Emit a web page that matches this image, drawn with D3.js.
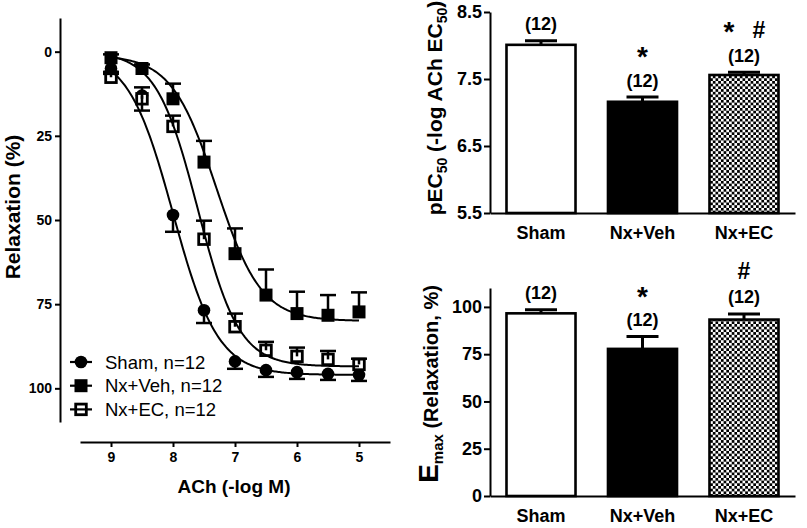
<!DOCTYPE html>
<html><head><meta charset="utf-8">
<script src="https://cdn.jsdelivr.net/npm/d3@7"></script>
<style>
body{margin:0;background:#fff}
text{font-family:"Liberation Sans",Arial,Helvetica,sans-serif}
</style>
</head><body>
<svg id="c" width="807" height="528" xmlns="http://www.w3.org/2000/svg"></svg>
<script>
// ---------- data: concentration-response ----------
const doses = [9, 8.5, 8, 7.5, 7, 6.5, 6, 5.5, 5];           // ACh (-log M)
const shamMean = [5, 13, 48.5, 76.8, 92, 94.6, 95.2, 95.7, 96];
const shamSem  = [1, 4.5, 5, 3.8, 2.2, 2, 2, 1.8, 1.8];
const vehMean  = [1.8, 5, 14, 32.8, 60, 72.3, 77.8, 78.3, 77.3];
const vehSem   = [1, 1.2, 4.5, 6.3, 7.5, 7.6, 6.5, 6, 5.8];
const ecMean   = [7.6, 14, 22.2, 55.7, 81.7, 88.7, 90.5, 91.4, 92.9];
const ecSem    = [1, 3.4, 3.2, 5.5, 3.9, 2.5, 2.6, 2.5, 1.7];
// fitted sigmoid parameters: [bottom, top, pEC50, hill]
const shamFit = [0, 96, 8.0, 1.2];
const vehFit  = [1, 80, 7.3, 1.2];
const ecFit   = [0, 93.5, 7.6, 1.3];
const legendLabels = ["Sham, n=12", "Nx+Veh, n=12", "Nx+EC, n=12"];
const relaxTicks = [0, 25, 50, 75, 100];
const doseTicks = [9, 8, 7, 6, 5];

// ---------- data: bar charts ----------
const groups = ["Sham", "Nx+Veh", "Nx+EC"];
const pec50 = [8.01, 7.16, 7.56];
const pec50Sem = [0.06, 0.07, 0.04];
const emax = [96.6, 77.8, 93.3];
const emaxSem = [1.9, 6.5, 3.0];
const nLabels = ["(12)", "(12)", "(12)"];
const pecSig = ["", "*", "* #"];
const emaxSig = ["", "*", "#"];
const pecTicks = [5.5, 6.5, 7.5, 8.5];
const emaxTicks = [0, 25, 50, 75, 100];

const svg = d3.select("#c");
const defs = svg.append("defs");
const pat = defs.append("pattern").attr("id","chk").attr("patternUnits","userSpaceOnUse")
  .attr("width",5.4).attr("height",5.4);
pat.append("rect").attr("width",5.4).attr("height",5.4).attr("fill","#fff");
pat.append("rect").attr("width",2.7).attr("height",2.7).attr("fill","#000");
pat.append("rect").attr("x",2.7).attr("y",2.7).attr("width",2.7).attr("height",2.7).attr("fill","#000");

function styleAxis(g, fs){
  g.selectAll("path.domain").attr("stroke","#000").attr("stroke-width",2);
  g.selectAll(".tick line").attr("stroke","#000").attr("stroke-width",2);
  g.selectAll(".tick text").attr("fill","#000").style("font-size",fs+"px").style("font-weight","bold")
   .style("font-family",'"Liberation Sans",Arial,sans-serif');
}

// ================= LEFT PANEL =================
const xL = d3.scaleLinear().domain([9.5, 4.5]).range([80, 390]);
const yL = d3.scaleLinear().domain([-10, 110]).range([18, 422]);

const gyL = svg.append("g").attr("transform","translate(60,0)")
  .call(d3.axisLeft(yL).tickValues(relaxTicks).tickSize(5).tickSizeOuter(0).tickPadding(3));
styleAxis(gyL, 14);
const gxL = svg.append("g").attr("transform","translate(0,442)")
  .call(d3.axisBottom(xL).tickValues(doseTicks).tickSize(5).tickSizeOuter(0).tickPadding(5)
    .tickFormat(d3.format("d")));
styleAxis(gxL, 14);

svg.append("text").attr("transform","translate(20,207) rotate(-90)").attr("text-anchor","middle")
  .style("font-size","21px").style("font-weight","bold").text("Relaxation (%)");
svg.append("text").attr("x",234).attr("y",493).attr("text-anchor","middle")
  .style("font-size","19px").style("font-weight","bold").text("ACh (-log M)");

const series = [
  {mean: shamMean, sem: shamSem, dir: 1, shape: "circle", fit: shamFit},
  {mean: vehMean, sem: vehSem, dir: -1, shape: "fsquare", fit: vehFit},
  {mean: ecMean, sem: ecSem, dir: -1, shape: "osquare", fit: ecFit}
];

function drawMarker(g, shape, cx, cy){
  if(shape==="circle"){
    g.append("circle").attr("cx",cx).attr("cy",cy).attr("r",6.3).attr("fill","#000");
  } else if(shape==="fsquare"){
    g.append("rect").attr("x",cx-6.5).attr("y",cy-6.5).attr("width",13).attr("height",13).attr("fill","#000");
  } else {
    g.append("rect").attr("x",cx-5.3).attr("y",cy-5.3).attr("width",10.6).attr("height",10.6)
      .attr("fill","#fff").attr("stroke","#000").attr("stroke-width",2.8);
  }
}

const markG = svg.append("g");
const lineG = svg.append("g");
const fitX = d3.range(9, 4.999, -0.02);
const line = d3.line().x(d=>xL(d[0])).y(d=>yL(d[1]));
series.forEach(s=>{
  doses.forEach((x,i)=>drawMarker(markG, s.shape, xL(x), yL(s.mean[i])));
  const [b,t,p,h] = s.fit;
  const pts = fitX.map(x=>[x, b + (t-b)/(1+Math.pow(10, h*(x-p)))]);
  lineG.append("path").attr("d",line(pts)).attr("fill","none").attr("stroke","#000").attr("stroke-width",2);
  doses.forEach((x,i)=>{
    const cx = xL(x), y0 = yL(s.mean[i]), y1 = yL(s.mean[i] + s.dir*s.sem[i]);
    lineG.append("line").attr("x1",cx).attr("x2",cx).attr("y1",y0).attr("y2",y1)
      .attr("stroke","#000").attr("stroke-width",2.5);
    lineG.append("line").attr("x1",cx-8).attr("x2",cx+8).attr("y1",y1).attr("y2",y1)
      .attr("stroke","#000").attr("stroke-width",2.5);
  });
});

// legend
const legG = svg.append("g");
series.forEach((s,i)=>{
  const cy = 362 + i*23.7;
  drawMarker(legG, s.shape, 81, cy);
  legG.append("line").attr("x1",70).attr("x2",92).attr("y1",cy).attr("y2",cy)
    .attr("stroke","#000").attr("stroke-width",2.2);
  legG.append("text").attr("x",105).attr("y",cy).attr("dy","0.36em")
    .style("font-size","18.5px").text(legendLabels[i]);
});

// ================= BAR PANELS =================
const xB = d3.scaleBand().domain(groups).range([490, 795]).paddingInner(0.32).paddingOuter(0.1625);
const fills = ["#fff", "#000", "url(#chk)"];

function barPanel(y, vals, sems, ticks, baseY, sig){
  const gy = svg.append("g").attr("transform","translate(490,0)")
    .call(d3.axisLeft(y).tickValues(ticks).tickSize(6).tickSizeOuter(0).tickPadding(2)
      .tickFormat(d=>String(d)));
  styleAxis(gy, 18);
  const gx = svg.append("g").attr("transform",`translate(0,${baseY})`)
    .call(d3.axisBottom(xB).tickSize(0).tickSizeOuter(0).tickPadding(13));
  styleAxis(gx, 18);
  groups.forEach((gname,i)=>{
    const x0 = xB(gname), w = xB.bandwidth(), cx = x0 + w/2;
    const yTop = y(vals[i]), yErr = y(vals[i]+sems[i]);
    svg.append("line").attr("x1",cx).attr("x2",cx).attr("y1",yTop).attr("y2",yErr)
      .attr("stroke","#000").attr("stroke-width",3);
    svg.append("line").attr("x1",cx-16).attr("x2",cx+16).attr("y1",yErr).attr("y2",yErr)
      .attr("stroke","#000").attr("stroke-width",3);
    svg.append("rect").attr("x",x0).attr("y",yTop).attr("width",w).attr("height",baseY-yTop)
      .attr("fill",fills[i]).attr("stroke","#000").attr("stroke-width",2.6);
    const nY = yErr - 17;
    svg.append("text").attr("x",cx).attr("y",nY).attr("dy","0.36em").attr("text-anchor","middle")
      .style("font-size","18px").style("font-weight","bold").text(nLabels[i]);
    if(sig[i]){
      const sy = nY - 26;
      const parts = sig[i].split(" ");
      const gap = 30;
      parts.forEach((ch,k)=>{
        const px = cx + (k - (parts.length-1)/2)*gap;
        if(ch==="*"){
          svg.append("text").attr("x",px).attr("y",sy+12).attr("text-anchor","middle")
            .style("font-size","28px").style("font-weight","bold").text("*");
        } else {
          svg.append("text").attr("x",px).attr("y",sy).attr("dy","0.36em").attr("text-anchor","middle")
            .style("font-size","23px").style("font-weight","bold").text(ch);
        }
      });
    }
  });
}

const yT = d3.scaleLinear().domain([5.5, 8.5]).range([213, 12]);
barPanel(yT, pec50, pec50Sem, pecTicks, 213, pecSig);
const yBt = d3.scaleLinear().domain([0, 110]).range([496, 288]);
barPanel(yBt, emax, emaxSem, emaxTicks, 496, emaxSig);

// y titles
const t1 = svg.append("text").attr("transform","translate(442,108) rotate(-90)").attr("text-anchor","middle")
  .style("font-size","21px").style("font-weight","bold");
t1.append("tspan").text("pEC");
t1.append("tspan").attr("dy","5").style("font-size","14px").text("50");
t1.append("tspan").attr("dy","-5").text(" (-log ACh EC");
t1.append("tspan").attr("dy","5").style("font-size","14px").text("50");
t1.append("tspan").attr("dy","-5").text(")");

const t2 = svg.append("text").attr("transform","translate(438,384) rotate(-90)").attr("text-anchor","middle")
  .style("font-weight","bold").style("font-size","20px");
t2.append("tspan").style("font-size","28px").text("E");
t2.append("tspan").attr("dy","5").style("font-size","15px").text("max");
t2.append("tspan").attr("dy","-5").text(" (Relaxation, %)");
</script>
</body></html>
